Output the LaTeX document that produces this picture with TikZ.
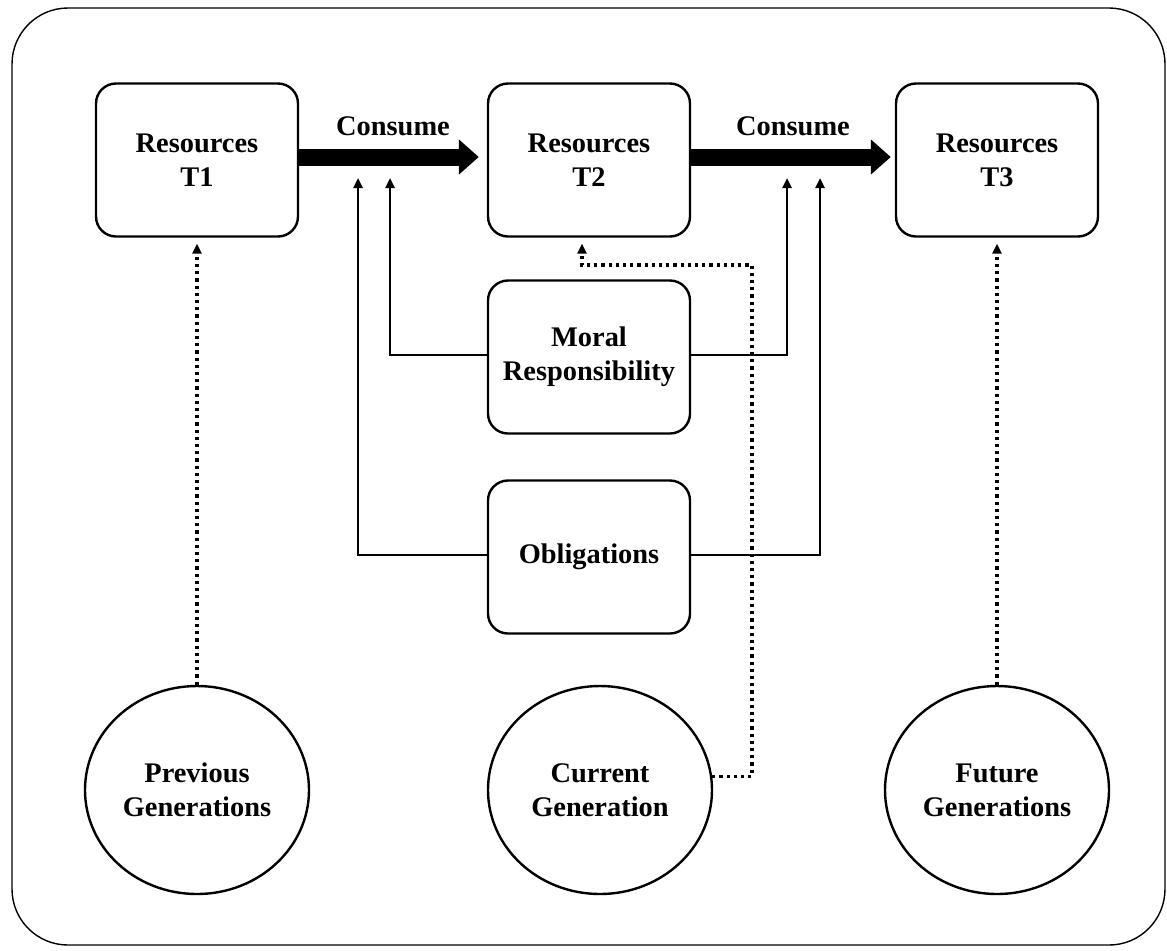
\documentclass[tikz,border=0pt]{standalone}
\usepackage{fontspec}
\setmainfont{Liberation Serif}
\usetikzlibrary{shapes.geometric, arrows.meta, positioning}

\begin{document}
\begin{tikzpicture}[x=0.5pt, y=-0.5pt,
    box/.style={rectangle, draw, line width=1.2pt, rounded corners=10pt, align=center,
                font=\fontsize{14.2}{17}\selectfont\bfseries,
                minimum width=101pt, minimum height=76.5pt},
    gen/.style={ellipse, draw, line width=1.2pt, align=center,
                font=\fontsize{14.2}{17}\selectfont\bfseries,
                minimum width=112pt, minimum height=104pt, inner sep=0pt},
    consume/.style={-{Triangle[length=10pt, width=17pt]}, line width=8.5pt},
    link/.style={-{Triangle[length=5pt, width=4.5pt]}, line width=1.2pt},
    dots/.style={-{Triangle[length=5pt, width=4.5pt]}, line width=1.6pt,
                 dash pattern=on 1.6pt off 2pt}
]
    \useasboundingbox (0,0) rectangle (1167,950);
    % outer frame
    \draw[line width=0.7pt, rounded corners=28pt] (12,8) rectangle (1165,945);

    % Resources in time
    \node[box] (t1) at (197, 160) {Resources\\T1};
    \node[box] (t2) at (589, 160) {Resources\\T2};
    \node[box] (t3) at (997, 160) {Resources\\T3};

    % Middle column
    \node[box] (moral) at (589, 357) {Moral\\Responsibility};
    \node[box] (obl)   at (589, 557) {Obligations};

    % Generations
    \node[gen] (prev) at (197, 790) {Previous\\Generations};
    \node[gen] (cur)  at (600, 790) {Current\\Generation};
    \node[gen] (fut)  at (997, 790) {Future\\Generations};

    % Arrow ends under the consume arrows
    \coordinate (a1) at (358, 178);
    \coordinate (a2) at (390, 178);
    \coordinate (a3) at (787, 178);
    \coordinate (a4) at (820, 178);
    \coordinate (bend) at (752, 265);

    % ── Consume flow ──
    \draw[consume, shorten >=4pt] ([yshift=1.5pt]t1.east) -- node[above=3pt, font=\fontsize{14.2}{17}\selectfont\bfseries]{Consume} ([yshift=1.5pt]t2.west);
    \draw[consume, shorten >=2pt] ([yshift=1.5pt]t2.east) -- node[above=3pt, font=\fontsize{14.2}{17}\selectfont\bfseries]{Consume} ([yshift=1.5pt]t3.west);

    % ── Moral responsibility and obligations ──
    \draw[link] ([yshift=1pt]moral.west) -| (a2);
    \draw[link] ([yshift=1pt]obl.west)   -| (a1);
    \draw[link] ([yshift=1pt]moral.east) -| (a3);
    \draw[link] ([yshift=1pt]obl.east)   -| (a4);

    % ── Generations ──
    \draw[dots, shorten >=3pt] (prev.north) -- (t1.south);
    \draw[dots, shorten >=3pt] (fut.north) -- (t3.south);
    \draw[dots, shorten >=3pt] (cur.7) -| (bend) -| ([xshift=-3.5pt]t2.south);
\end{tikzpicture}
\end{document}
